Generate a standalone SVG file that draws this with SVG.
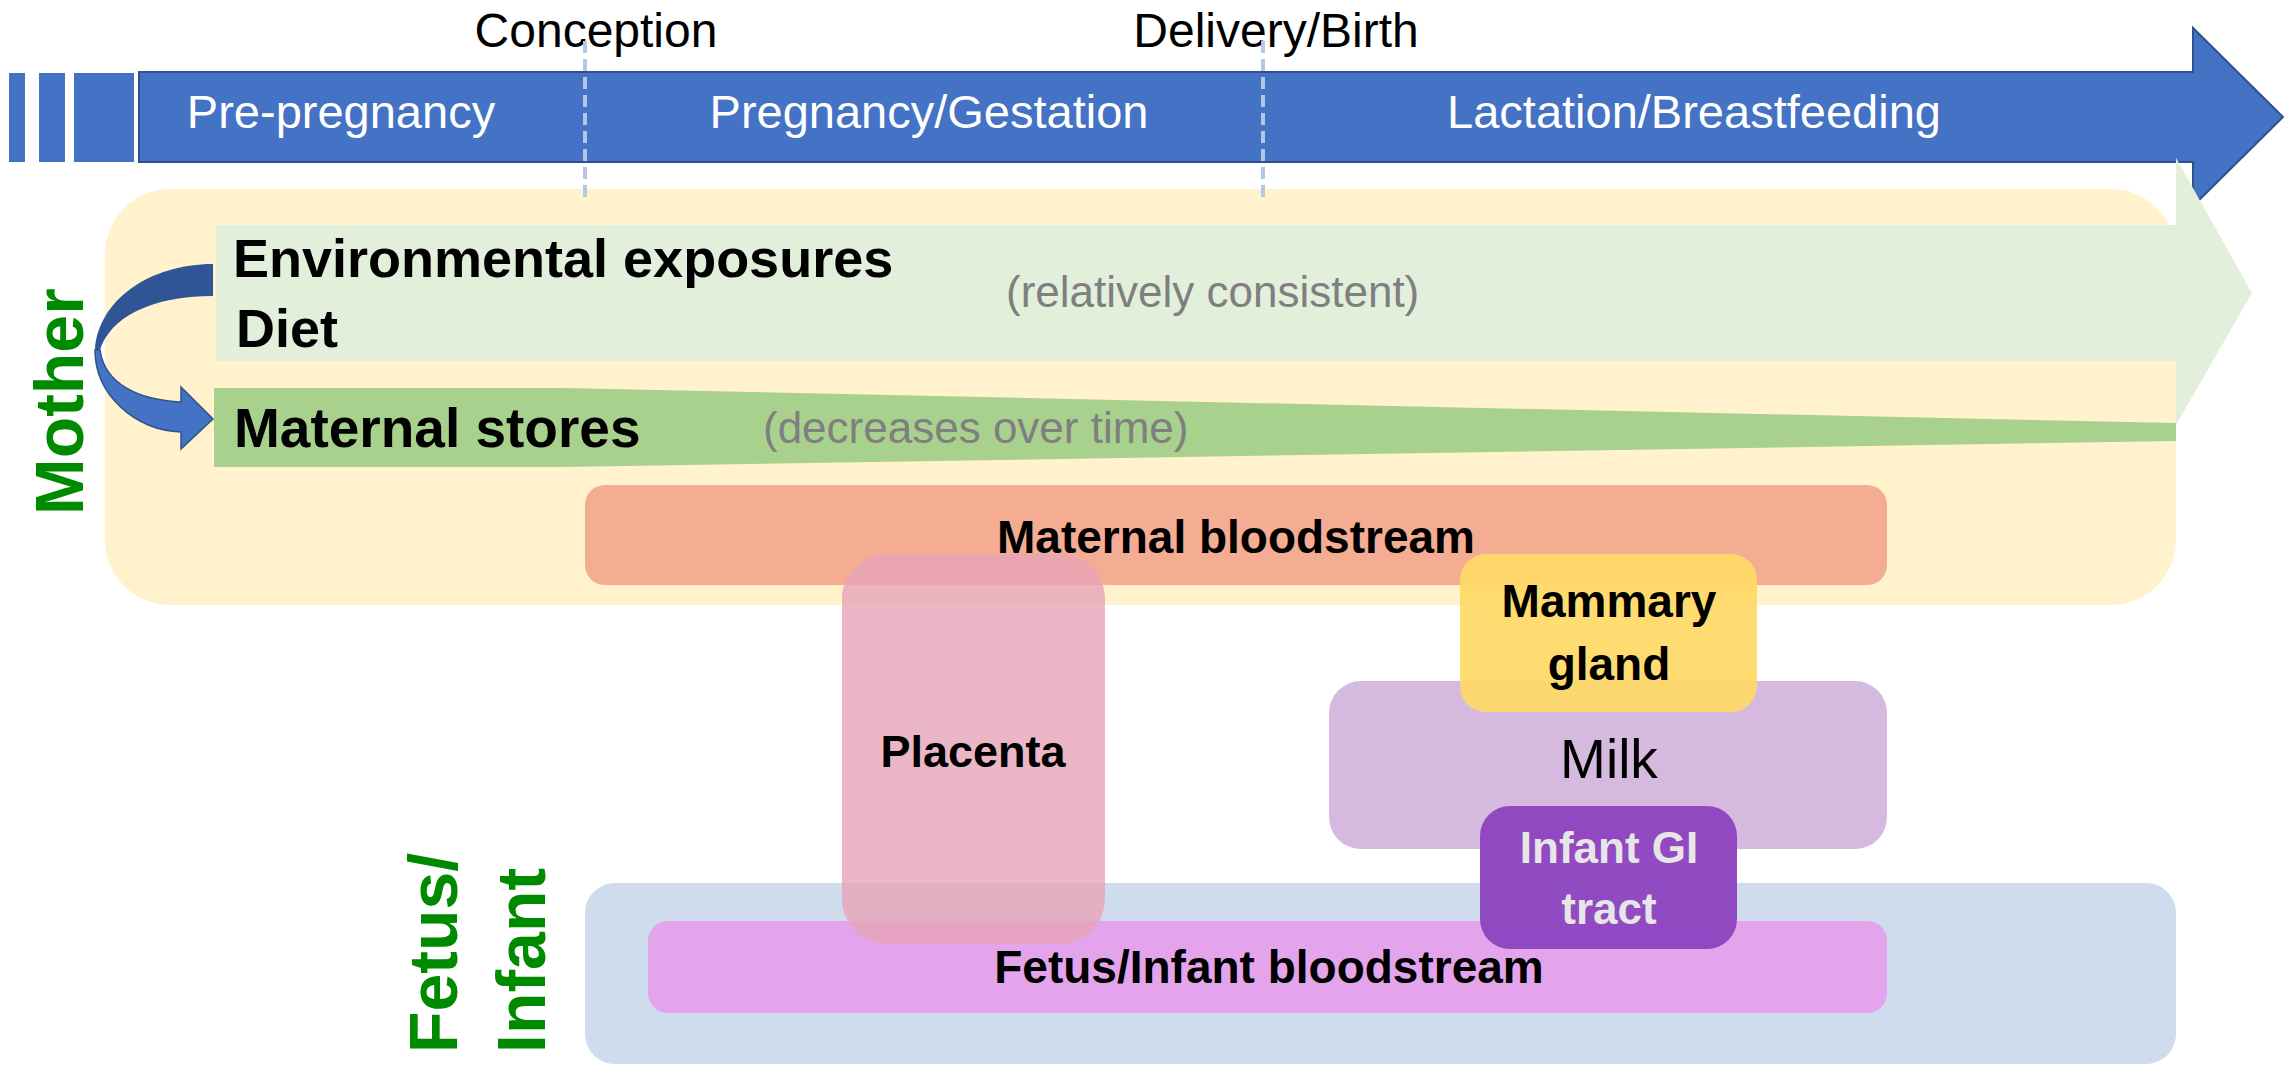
<svg xmlns="http://www.w3.org/2000/svg" width="2293" height="1067" viewBox="0 0 2293 1067">
<style>
.t{font-family:"Liberation Sans",Arial,sans-serif}
.b{font-family:"Liberation Sans",Arial,sans-serif;font-weight:bold}
.wt{fill:#ffffff;font-size:47px}
.top{fill:#000;font-size:48px}
.side{fill:#008a00;font-size:68px;font-weight:bold;font-family:"Liberation Sans",Arial,sans-serif}
.gray{fill:#7f7f7f;font-size:44px}
.dash{stroke:#b4c7e7;stroke-width:4;stroke-dasharray:12 6;fill:none}
</style>
<rect width="2293" height="1067" fill="#ffffff"/>
<g id="timeline">
  <rect x="9" y="73" width="16" height="89" fill="#4472c4"/>
  <rect x="39" y="73" width="26" height="89" fill="#4472c4"/>
  <rect x="74" y="73" width="60" height="89" fill="#4472c4"/>
  <path d="M139 72 L2193 72 L2193 28 L2283 117 L2193 206 L2193 162 L139 162 Z" fill="#4472c4" stroke="#2f528f" stroke-width="2"/>
  <text class="t wt" x="341" y="128" text-anchor="middle">Pre-pregnancy</text>
  <text class="t wt" x="929" y="128" text-anchor="middle">Pregnancy/Gestation</text>
  <text class="t wt" x="1694" y="128" text-anchor="middle">Lactation/Breastfeeding</text>
</g>
<g id="labels-top">
  <text class="t top" x="596" y="47" text-anchor="middle">Conception</text>
  <text class="t top" x="1276" y="47" text-anchor="middle">Delivery/Birth</text>
</g>
<g id="mother">
  <rect x="105" y="189" width="2071" height="416" rx="65" fill="#fff2cc"/>
  <text class="side" transform="translate(83 515) rotate(-90)">Mother</text>
</g>
<g id="environment">
  <polygon points="216,225 2176,225 2176,158 2252,293 2176,425 2176,361 216,361" fill="#e2efda"/>
  <text class="b" x="233" y="277" font-size="54" fill="#000">Environmental exposures</text>
  <text class="b" x="236" y="347" font-size="54" fill="#000">Diet</text>
  <text class="t gray" x="1006" y="307">(relatively consistent)</text>
</g>
<g id="stores">
  <polygon points="214,388 563,388 2176,423 2176,441 563,467 214,467" fill="#a9d18e"/>
  <text class="b" x="234" y="447" font-size="55" fill="#000">Maternal stores</text>
  <text class="t gray" x="763" y="443">(decreases over time)</text>
</g>
<g id="connectors">
  <path d="M213 264 C150 264 98 300 95 350 L100 350 C110 318 150 296 213 296 Z" fill="#2f5597"/>
  <path d="M95 350 C95 395 135 430 181 432 L181 449 L213 419 L181 387 L181 402 C140 400 105 385 100 350 Z" fill="#4472c4" stroke="#2f528f" stroke-width="1.5"/>
</g>
<g id="dashes">
  <line class="dash" x1="585" y1="41" x2="585" y2="199"/>
  <line class="dash" x1="1263" y1="41" x2="1263" y2="199"/>
</g>
<g id="maternal-bloodstream">
  <rect x="585" y="485" width="1302" height="100" rx="20" fill="#f4ac93"/>
  <text class="b" x="1236" y="553" font-size="46" fill="#000" text-anchor="middle">Maternal bloodstream</text>
</g>
<g id="fetus-infant">
  <rect x="585" y="883" width="1591" height="181" rx="30" fill="#cfdcee"/>
  <text class="side" transform="translate(457 1053) rotate(-90)">Fetus/</text>
  <text class="side" transform="translate(545 1053) rotate(-90)">Infant</text>
</g>
<g id="fetus-bloodstream">
  <rect x="648" y="921" width="1239" height="92" rx="20" fill="#e4a4ec"/>
  <text class="b" x="1269" y="983" font-size="46" fill="#000" text-anchor="middle">Fetus/Infant bloodstream</text>
</g>
<g id="milk">
  <rect x="1329" y="681" width="558" height="168" rx="32" fill="#d5b9df"/>
  <text class="t" x="1609" y="778" font-size="55" fill="#000" text-anchor="middle">Milk</text>
</g>
<g id="placenta">
  <rect x="842" y="554" width="263" height="390" rx="45" fill="#e6a4b8" fill-opacity="0.8"/>
  <text class="b" x="973" y="767" font-size="45" fill="#000" text-anchor="middle">Placenta</text>
</g>
<g id="mammary-gland">
  <rect x="1460" y="554" width="297" height="158" rx="26" fill="#ffd966" fill-opacity="0.92"/>
  <text class="b" x="1609" y="617" font-size="46" fill="#000" text-anchor="middle">Mammary</text>
  <text class="b" x="1609" y="680" font-size="46" fill="#000" text-anchor="middle">gland</text>
</g>
<g id="infant-gi">
  <rect x="1480" y="806" width="257" height="143" rx="30" fill="#8e44c0" fill-opacity="0.96"/>
  <text class="b" x="1609" y="863" font-size="44" fill="#e6e6e6" text-anchor="middle">Infant GI</text>
  <text class="b" x="1609" y="924" font-size="44" fill="#e6e6e6" text-anchor="middle">tract</text>
</g>
</svg>
